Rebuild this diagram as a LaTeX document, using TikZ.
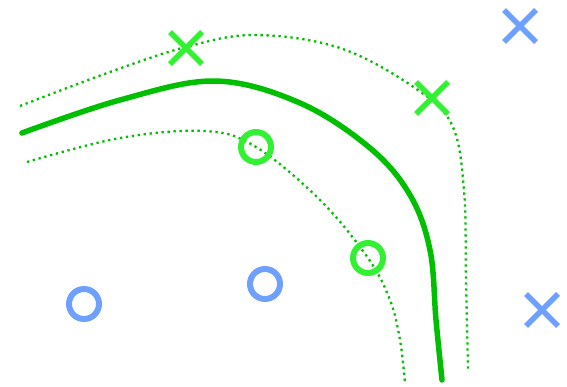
\documentclass[tikz,border=0pt]{standalone}
\begin{document}
\begin{tikzpicture}[x=1pt,y=-1pt,
  main/.style={draw=mainc, line width=5.5pt, line cap=round},
  margin/.style={draw=mainc, line width=2.3pt, dash pattern=on 2.3pt off 3.7pt},
  xmark/.style={line width=5.5pt},
  omark/.style={circle, draw, line width=6pt, minimum size=30pt, inner sep=0pt}]
\definecolor{mainc}{RGB}{0,190,0}
\definecolor{lgreen}{RGB}{50,240,50}
\definecolor{lblue}{RGB}{110,160,255}
\useasboundingbox (0,0) rectangle (567,386);
% curves
\draw[main] plot[smooth, tension=0.6] coordinates {(22,133) (120,100) (215,81) (300,103) (370,148) (410,195) (430,250) (436,320) (442,380)};
\draw[margin] plot[smooth, tension=0.6] coordinates {(20,106) (110,72) (186,47) (255,35) (340,48) (415,88) (452,125) (464,190) (466,280) (468,370)};
\draw[margin] plot[smooth, tension=0.6] coordinates {(27,162) (120,138) (205,131) (256,147) (320,200) (368,258) (390,300) (400,340) (405,383)};
% markers
\foreach \n/\px/\py/\c in {g1/186/48/lgreen, g2/432/98/lgreen, b1/520/26/lblue, b2/542/310/lblue}{
  \draw[xmark, draw=\c] (\px-16,\py-16) -- (\px+16,\py+16);
  \draw[xmark, draw=\c] (\px-16,\py+16) -- (\px+16,\py-16);
}
\node[omark, draw=lgreen] (c1) at (256,147) {};
\node[omark, draw=lgreen] (c2) at (368,258) {};
\node[omark, draw=lblue] (c3) at (84,304) {};
\node[omark, draw=lblue] (c4) at (265,284) {};
\end{tikzpicture}
\end{document}
